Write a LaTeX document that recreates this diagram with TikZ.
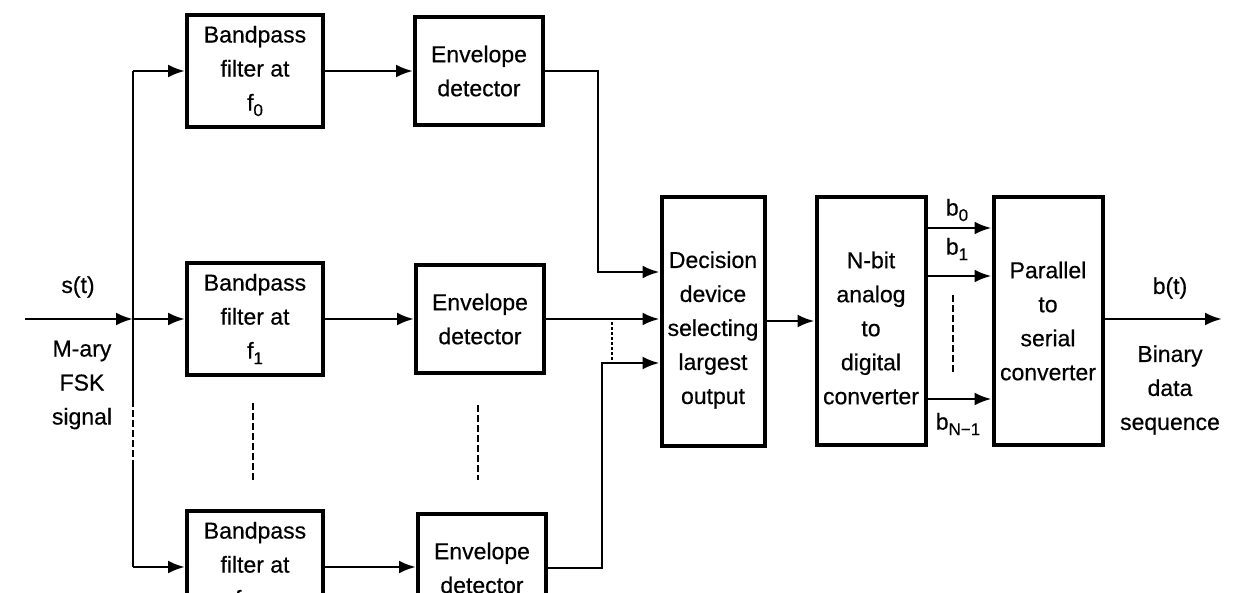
\documentclass[tikz,border=0pt]{standalone}
\usepackage{fontspec}
\setmainfont[FakeBold=0.5]{Liberation Sans}
\usetikzlibrary{arrows.meta}
\newcommand\lowsub[1]{\raisebox{-0.45ex}{\fontsize{17}{17}\selectfont #1}}
\begin{document}
\begin{tikzpicture}[x=1pt,y=-1pt,
  blk/.style={draw,line width=4pt,align=center,inner sep=0pt,font=\fontsize{23}{34}\selectfont},
  con/.style={line width=2.8pt,-{Latex[length=17pt,width=13pt]}},
  ln/.style={line width=2.8pt},
  dsh/.style={line width=2.2pt,dash pattern=on 7pt off 3pt},
  dot/.style={line width=1.8pt,dash pattern=on 3pt off 2pt},
  lbl/.style={font=\fontsize{23}{34}\selectfont,align=center,inner sep=0pt}]
\useasboundingbox (0,0) rectangle (1248,592);
\clip (0,0) rectangle (1248,592);

% boxes
\node[blk,minimum width=136pt,minimum height=112pt] (bpf0) at (255,71) {Bandpass\\filter at\\f\lowsub{0}};
\node[blk,minimum width=136pt,minimum height=112pt] (bpf1) at (255,319) {Bandpass\\filter at\\f\lowsub{1}};
\node[blk,minimum width=136pt,minimum height=112pt] (bpf2) at (255,567) {Bandpass\\filter at\\f\lowsub{M−1}};
\node[blk,minimum width=128pt,minimum height=108pt] (env0) at (479,71) {Envelope\\detector};
\node[blk,minimum width=128pt,minimum height=108pt] (env1) at (480,319) {Envelope\\detector};
\node[blk,minimum width=128pt,minimum height=108pt] (env2) at (482,568) {Envelope\\detector};
\node[blk,minimum width=103pt,minimum height=249pt] (dec) at (713,321) {};
\node[lbl] (dect) at (713,330) {Decision\\device\\selecting\\largest\\output};
\node[blk,minimum width=109pt,minimum height=248pt] (adc) at (871,321) {};
\node[lbl] (adct) at (871,328) {N-bit\\analog\\to\\digital\\converter};
\node[blk,minimum width=109pt,minimum height=248pt] (ps) at (1048,321) {Parallel\\to\\serial\\converter};

% coordinates
\coordinate (in) at (25,319);
\coordinate (bus0) at (133,71);
\coordinate (bus1) at (133,319);
\coordinate (bus2) at (133,567);
\coordinate (busa) at (133,400);
\coordinate (busb) at (133,462);
\coordinate (t0) at (598,272);
\coordinate (t2) at (602,363);
\coordinate (d1) at (612,322);
\coordinate (d2) at (612,363);
\coordinate (y0) at (0,228);
\coordinate (y1) at (0,276);
\coordinate (yn) at (0,399);
\coordinate (out) at (1222,319);
\coordinate (va1) at (253,403);
\coordinate (va2) at (253,480);
\coordinate (vb1) at (478,405);
\coordinate (vb2) at (478,480);
\coordinate (vc1) at (953,295);
\coordinate (vc2) at (953,375);

% input and bus
\draw[con] (in) -- (bus1);
\draw[ln] (bus0) -- (busa);
\draw[dsh] (busa) -- (busb);
\draw[ln] (busb) -- (bus2);
\draw[con] (bus0) -- (bus0 -| bpf0.west);
\draw[con] (bus1) -- (bus1 -| bpf1.west);
\draw[con] (bus2) -- (bus2 -| bpf2.west);

% filters to detectors
\draw[con] (bpf0.east) -- (bpf0.east -| env0.west);
\draw[con] (bpf1.east) -- (bpf1.east -| env1.west);
\draw[con] (bpf2.east) -- (bpf2.east -| env2.west);

% detectors to decision
\draw[con] (env0.east) -| (t0) -- (t0 -| dec.west);
\draw[con] (env1.east) -- (env1.east -| dec.west);
\draw[con] (env2.east) -| (t2) -- (t2 -| dec.west);
\draw[dot] (d1) -- (d2);

% dashed continuation marks
\draw[dsh] (va1) -- (va2);
\draw[dsh] (vb1) -- (vb2);
\draw[dsh] (vc1) -- (vc2);

% decision to adc
\draw[con] (dec.east) -- (adc.west);

% adc to parallel-serial
\draw[con] (adc.east |- y0) -- (ps.west |- y0);
\draw[con] (adc.east |- y1) -- (ps.west |- y1);
\draw[con] (adc.east |- yn) -- (ps.west |- yn);

% output
\draw[con] (ps.east |- out) -- (out);

% labels
\node[lbl] (st) at (78,287) {s(t)};
\node[lbl] (mary) at (82,385) {M-ary\\FSK\\signal};
\node[lbl] (lb0) at (957,210) {b\lowsub{0}};
\node[lbl] (lb1) at (957,249) {b\lowsub{1}};
\node[lbl] (lbn) at (958,424) {b\lowsub{N−1}};
\node[lbl] (bt) at (1170,288) {b(t)};
\node[lbl] (bin) at (1170,390) {Binary\\data\\sequence};
\end{tikzpicture}
\end{document}
